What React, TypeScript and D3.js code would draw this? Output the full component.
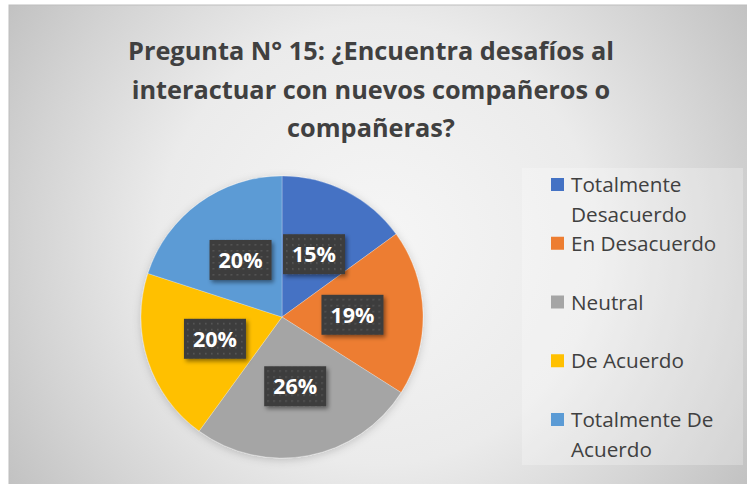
import React from 'react';
import * as d3 from 'd3';

const categories = ['Totalmente Desacuerdo', 'En Desacuerdo', 'Neutral', 'De Acuerdo', 'Totalmente De Acuerdo'];
const values = [15, 19, 26, 20, 20];
const colors = ['#4472C4', '#ED7D31', '#A5A5A5', '#FFC000', '#5B9BD5'];
const legendLines = [['Totalmente', 'Desacuerdo'], ['En Desacuerdo'], ['Neutral'], ['De Acuerdo'], ['Totalmente De', 'Acuerdo']];
const titleLines = ['Pregunta N° 15: ¿Encuentra desafíos al', 'interactuar con nuevos compañeros o', 'compañeras?'];

const W = 747;
const H = 484;
const FONT = '"Open Sans", Lato, sans-serif';

export default function App() {
  const cx = 282;
  const cy = 317;
  const R = 141;
  const total = d3.sum(values);
  const pie = d3.pie<number>().sort(null).value((d) => d);
  const arcs = pie(values);
  const arc = d3.arc<d3.PieArcDatum<number>>().innerRadius(0).outerRadius(R);
  const color = d3.scaleOrdinal<string, string>().domain(categories).range(colors);
  const legendY = d3.scalePoint<string>().domain(categories).range([185, 420]);
  const titleY = d3.scaleLinear().domain([0, 2]).range([60, 137]);
  const fmt = (v: number) => `${Math.round((v / total) * 100)}%`;

  return (
    <svg width={W} height={H} style={{ position: 'absolute', left: 0, top: 0 }} xmlns="http://www.w3.org/2000/svg">
      <defs>
        <radialGradient id="bg" gradientUnits="userSpaceOnUse" cx={378} cy={244} r={440}>
          <stop offset="0" stopColor="#f6f6f6" />
          <stop offset="0.5" stopColor="#ebebeb" />
          <stop offset="0.8" stopColor="#d3d3d3" />
          <stop offset="1" stopColor="#c2c2c2" />
        </radialGradient>
        <pattern id="dots" width="6" height="6" patternUnits="userSpaceOnUse">
          <rect width="6" height="6" fill="#3d3d3d" />
          <rect x="2" y="2" width="1.6" height="1.6" fill="#575757" />
        </pattern>
        <filter id="lblShadow" x="-20%" y="-20%" width="150%" height="160%">
          <feDropShadow dx="2" dy="2.5" stdDeviation="2" floodColor="#000" floodOpacity="0.45" />
        </filter>
        <filter id="pieShadow" x="-20%" y="-20%" width="140%" height="140%">
          <feDropShadow dx="0" dy="2" stdDeviation="4" floodColor="#000" floodOpacity="0.18" />
        </filter>
      </defs>
      <rect x={9} y={5} width={760} height={500} fill="url(#bg)" stroke="#bdbdbd" strokeWidth={1} />
      <rect x={522} y={168} width={221} height={297} fill="#ffffff" opacity={0.25} />

      {titleLines.map((t, i) => (
        <text key={i} x={371} y={titleY(i)} textAnchor="middle" fontFamily={FONT} fontWeight={700} fontSize={25.3} fill="#404040">
          {t}
        </text>
      ))}

      <g transform={`translate(${cx},${cy})`} filter="url(#pieShadow)">
        {arcs.map((a, i) => (
          <path key={i} d={arc(a) || ''} fill={color(categories[i])} stroke="#ffffff" strokeWidth={0.5} strokeOpacity={0.5} />
        ))}
      </g>
      <g transform={`translate(${cx},${cy})`}>
        {arcs.map((a, i) => {
          const [x, y] = arc.centroid(a);
          return (
            <g key={i} transform={`translate(${x},${y})`}>
              <rect x={-31} y={-20} width={62} height={40} fill="url(#dots)" filter="url(#lblShadow)" />
              <text x={0} y={0} dy="0.36em" textAnchor="middle" fontFamily={FONT} fontWeight={700} fontSize={21.5} fill="#ffffff">
                {fmt(values[i])}
              </text>
            </g>
          );
        })}
      </g>

      {categories.map((c, i) => {
        const y = legendY(c) as number;
        return (
          <g key={c}>
            <rect x={551} y={y - 7} width={13} height={13} fill={color(c)} />
            {legendLines[i].map((ln, j) => (
              <text key={j} x={571} y={y + j * 30} dy="0.35em" fontFamily={FONT} fontSize={20.7} fill="#404040">
                {ln}
              </text>
            ))}
          </g>
        );
      })}
    </svg>
  );
}
